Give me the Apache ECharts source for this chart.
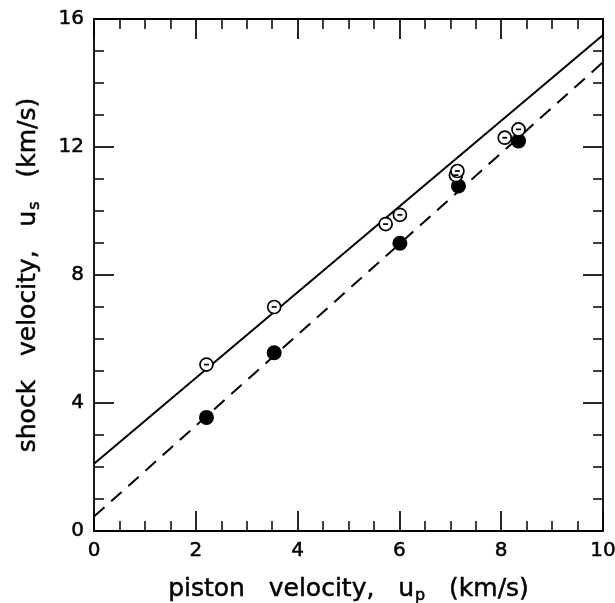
<!DOCTYPE html>
<html>
<head>
<meta charset="utf-8">
<script src="https://cdn.jsdelivr.net/npm/echarts@6/dist/echarts.min.js"></script>
<style>
html,body{margin:0;padding:0;background:#fff;}
#chart{width:615px;height:603px;}
</style>
</head>
<body>
<div id="chart"></div>
<script>
// Data
const openX = [2.21, 3.54, 5.73, 6.01, 7.11, 7.14, 8.07, 8.34];
const openY = [5.20, 7.00, 9.59, 9.88, 11.12, 11.25, 12.29, 12.55];
const filledX = [2.21, 3.54, 6.01, 7.16, 8.34];
const filledY = [3.55, 5.57, 8.99, 10.78, 12.19];
const fitX = [0, 10];
const solidFitY = [2.1, 15.5];
const dashedFitY = [0.45, 14.65];
const xTicks = [0, 2, 4, 6, 8, 10];
const yTicks = [0, 4, 8, 12, 16];

const zip = (xs, ys) => xs.map((x, i) => [x, ys[i]]);
const FONT = 'DejaVu Sans';
const black = '#000';
const txt = (size) => ({ fontFamily: FONT, fontSize: size, color: black, textBorderColor: black, textBorderWidth: 0.5 });

const baseAxis = {
  axisLine: { show: true, onZero: false, lineStyle: { color: black, width: 1.8 } },
  axisTick: { show: true, inside: true, length: 20, lineStyle: { color: black, width: 1.7 } },
  minorTick: { show: true, splitNumber: 4, length: 10, lineStyle: { color: black, width: 1.5 } },
  splitLine: { show: false },
  minorSplitLine: { show: false }
};

const chart = echarts.init(document.getElementById('chart'), null, { renderer: 'canvas' });
chart.setOption({
  animation: false,
  backgroundColor: '#fff',
  grid: { left: 94, right: 12, top: 19, bottom: 72, containLabel: false, outerBoundsMode: 'none' },
  xAxis: [
    Object.assign({}, baseAxis, {
      type: 'value', min: 0, max: 10, interval: 2, position: 'bottom',
      axisLabel: Object.assign(txt(20), { show: true, margin: 10,
        formatter: v => xTicks.includes(v) ? String(v) : '' }),
      name: '{a|piston   velocity,   u}{sub|p}{a|   (km/s)}',
      nameLocation: 'middle', nameGap: 43,
      nameTextStyle: { rich: {
        a: txt(25),
        sub: Object.assign(txt(16), { padding: [14, 0, 0, 1] })
      } }
    }),
    Object.assign({}, baseAxis, {
      type: 'value', min: 0, max: 10, interval: 2, position: 'top',
      axisLabel: { show: false }
    })
  ],
  yAxis: [
    Object.assign({}, baseAxis, {
      type: 'value', min: 0, max: 16, interval: 4, position: 'left',
      axisLabel: Object.assign(txt(20), { show: true, margin: 10,
        formatter: v => yTicks.includes(v) ? String(v) : '' }),
      name: '{a|shock   velocity,   u}{sub|s}{a|   (km/s)}',
      nameLocation: 'middle', nameGap: 51, nameRotate: 90,
      nameTextStyle: { rich: {
        a: txt(25),
        sub: Object.assign(txt(16), { padding: [14, 0, 0, 1] })
      } }
    }),
    Object.assign({}, baseAxis, {
      type: 'value', min: 0, max: 16, interval: 4, position: 'right',
      axisLabel: { show: false }
    })
  ],
  series: [
    {
      type: 'line', data: zip(fitX, solidFitY), showSymbol: false, symbol: 'none',
      lineStyle: { color: black, width: 2 }, z: 2
    },
    {
      type: 'line', data: zip(fitX, dashedFitY), showSymbol: false, symbol: 'none',
      lineStyle: { color: black, width: 2, type: [14, 9] }, z: 2
    },
    {
      type: 'scatter', data: zip(filledX, filledY), symbol: 'circle', symbolSize: 15,
      itemStyle: { color: black, opacity: 1 }, z: 3
    },
    {
      type: 'scatter', data: zip(openX, openY), symbol: 'circle', symbolSize: 13,
      itemStyle: { color: '#fff', borderColor: black, borderWidth: 1.7, opacity: 1 }, z: 4
    },
    {
      type: 'scatter', data: zip(openX, openY), symbol: 'rect', symbolSize: [5, 1.7],
      itemStyle: { color: black, opacity: 1 }, z: 5
    }
  ]
});
</script>
</body>
</html>
